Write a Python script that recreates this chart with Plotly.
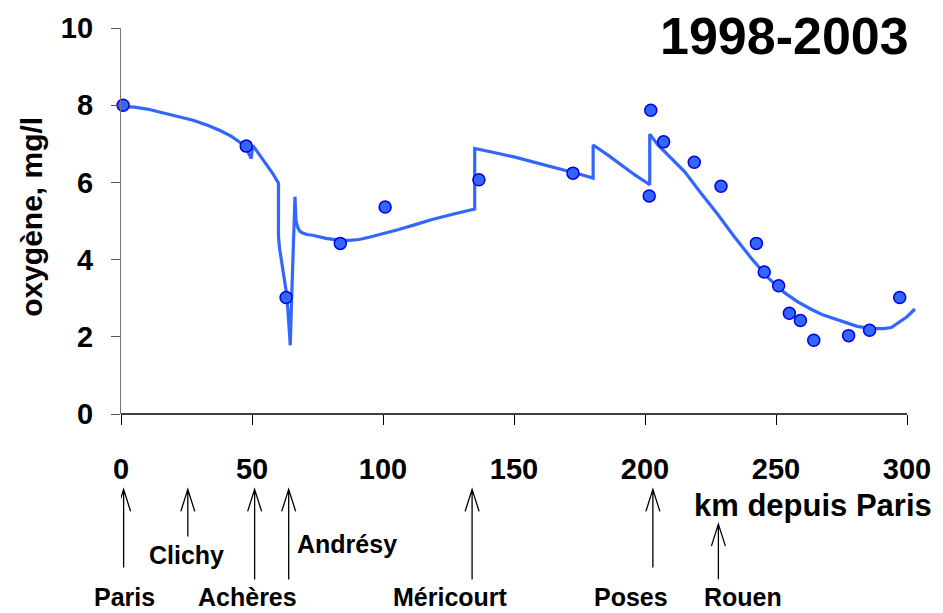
import plotly.graph_objects as go

# ---------------- data ----------------
obs_km = [-0.3, 0.8, 47.8, 63.0, 83.7, 100.8, 136.6, 172.5, 201.6, 202.2, 207.1,
          218.8, 229.0, 242.5, 245.5, 251.0, 255.1, 259.3, 264.4, 277.7, 285.7, 297.2]
obs_o2 = [8.0, 8.0, 6.94, 3.02, 4.42, 5.36, 6.07, 6.24, 5.65, 7.87, 7.05,
          6.52, 5.90, 4.42, 3.68, 3.32, 2.61, 2.42, 1.91, 2.03, 2.17, 3.02]

model_km = [0, 5, 10, 15, 20, 27.5, 33, 37.6, 42, 45.2, 48, 49.7, 50.3, 53, 55.4, 58,
            60.1, 60.1, 60.5, 61.5, 62.3, 63, 63.7, 64.3, 64.6, 65.1, 65.6, 66.2, 66.4,
            66.8, 67.5, 68.3, 69.3, 71, 73.1, 78.2, 83.7, 87, 90.9, 94.7, 100, 106, 112,
            118.7, 127, 135, 135, 140, 144.1, 150, 156.8, 163, 169.5, 175.8, 180.2, 180.2,
            186, 191, 196, 201.8, 201.8, 204.9, 210, 215.1, 221, 227.8, 234, 240.4, 246.8,
            253.1, 258, 263.2, 267.5, 272.1, 276.5, 281, 286, 291.1, 294, 296.2, 300, 303]
model_o2 = [7.97, 7.95, 7.9, 7.82, 7.74, 7.61, 7.48, 7.35, 7.2, 7.05, 6.85, 6.62, 6.96,
            6.7, 6.45, 6.22, 5.98, 4.6, 4.3, 3.9, 3.5, 3.2, 2.7, 2.17, 1.78, 2.94, 4.2,
            5.2, 5.63, 5.0, 4.82, 4.73, 4.69, 4.65, 4.63, 4.55, 4.5, 4.5, 4.52, 4.58,
            4.67, 4.78, 4.9, 5.04, 5.18, 5.31, 6.88, 6.82, 6.75, 6.66, 6.54, 6.44, 6.32,
            6.2, 6.11, 6.97, 6.7, 6.45, 6.2, 5.94, 7.25, 6.97, 6.62, 6.28, 5.75, 5.17,
            4.6, 4.05, 3.54, 3.15, 2.92, 2.72, 2.58, 2.47, 2.37, 2.27, 2.22, 2.21, 2.24,
            2.34, 2.52, 2.72]

x_ticks = [0, 50, 100, 150, 200, 250, 300]
y_ticks = [0, 2, 4, 6, 8, 10]

stations = ["Paris", "Clichy", "Achères", "Andrésy", "Méricourt", "Poses", "Rouen"]
station_km = [1, 25.5, 51, 64, 134, 203, 228]

title_text = "1998-2003"
x_title = "km depuis Paris"
y_title = "oxygène, mg/l"

# ---------------- layout geometry (pixels) ----------------
W_FIG, H_FIG = 943, 613
L, T = 121, 25
PW, PH = 798, 389
R = W_FIG - L - PW
B = H_FIG - T - PH
X_MAX = PW / 2.63

arrow_tip_px = [490, 490, 490, 490, 490, 490, 525]
arrow_tail_px = [568, 537, 580, 580, 580, 568, 580]
label_x_px = [125, 186.5, 247.5, 347.5, 452, 633, 745]
label_y_px = [598, 556, 598, 545, 598, 598, 598]


def px_x(px):
    return (px - L) / PW


def px_y(py):
    return (T + PH - py) / PH


FONT = "Liberation Sans, Arial, sans-serif"
BLUE = "#3366FF"

fig = go.Figure()
fig.add_trace(go.Scatter(x=model_km, y=model_o2, mode="lines",
                         line=dict(color=BLUE, width=3.2), hoverinfo="skip",
                         showlegend=False))
fig.add_trace(go.Scatter(x=obs_km, y=obs_o2, mode="markers", cliponaxis=False,
                         marker=dict(size=12, color=BLUE,
                                     line=dict(color="#0000DD", width=1.5)),
                         showlegend=False))

annotations = []
shapes = []

# x axis line (0..300 only)
shapes.append(dict(type="line", xref="x", yref="paper", x0=0, x1=300, y0=0, y1=0,
                   line=dict(color="black", width=1.3)))

for name, km, tip, tail, lx, ly in zip(stations, station_km, arrow_tip_px,
                                       arrow_tail_px, label_x_px, label_y_px):
    length = tail - tip
    shapes.append(dict(type="path", xref="x", xsizemode="pixel", xanchor=km,
                       yref="paper", ysizemode="pixel", yanchor=px_y(tip),
                       path=f"M-7,-22 L0,0 L7,-22 M0,0 L0,-{length}",
                       line=dict(color="black", width=1.3)))
    annotations.append(dict(text=name, xref="paper", yref="paper",
                            x=px_x(lx), y=px_y(ly), xanchor="center", yanchor="middle",
                            showarrow=False, borderpad=0,
                            font=dict(family=FONT, size=25, color="black", weight="bold")))

annotations.append(dict(text=title_text, xref="paper", yref="paper",
                        x=px_x(787.5), y=px_y(33), xanchor="center", yanchor="middle",
                        showarrow=False,
                        font=dict(family=FONT, size=52, color="black", weight="bold")))
annotations.append(dict(text=x_title, xref="paper", yref="paper",
                        x=px_x(816), y=px_y(506), xanchor="center", yanchor="middle",
                        showarrow=False,
                        font=dict(family=FONT, size=31, color="black", weight="bold")))
annotations.append(dict(text=y_title, xref="paper", yref="paper",
                        x=px_x(31), y=px_y(215), xanchor="center", yanchor="middle",
                        textangle=-90, showarrow=False,
                        font=dict(family=FONT, size=30, color="black", weight="bold")))

fig.update_layout(
    width=W_FIG, height=H_FIG,
    margin=dict(l=L, r=R, t=T, b=B, pad=0),
    paper_bgcolor="white", plot_bgcolor="white",
    xaxis=dict(range=[0, X_MAX], tickvals=x_ticks, ticktext=[str(v) for v in x_ticks],
               showgrid=False, zeroline=False, showline=False,
               ticks="outside", ticklen=10, tickwidth=1.3, tickcolor="black",
               ticklabelstandoff=19,
               tickfont=dict(family=FONT, size=29, color="black", weight="bold")),
    yaxis=dict(range=[0, 10], tickvals=y_ticks, showgrid=False, zeroline=False,
               showline=True, linecolor="#777777", linewidth=1.3,
               ticks="outside", ticklen=9, tickwidth=1.3, tickcolor="#555555",
               ticklabelstandoff=12,
               tickfont=dict(family=FONT, size=29, color="black", weight="bold")),
    annotations=annotations,
    shapes=shapes,
)

fig.write_html("out.html")
